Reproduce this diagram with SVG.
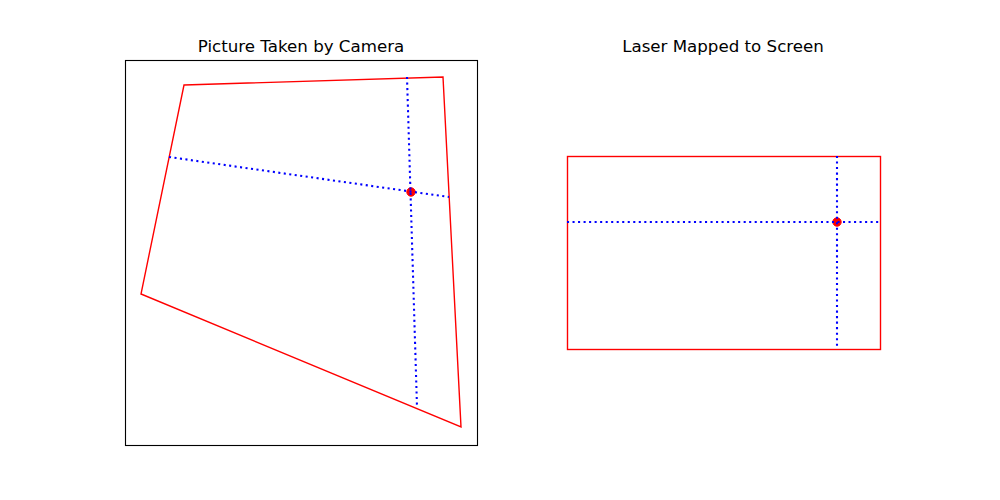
<svg xmlns="http://www.w3.org/2000/svg" width="1000" height="500" viewBox="0 0 1000 500">
<style>
.title{font-family:"DejaVu Sans",sans-serif;font-size:16.67px;fill:#000;text-anchor:middle}
.quad{fill:none;stroke:#ff0000;stroke-width:1.39;stroke-linejoin:miter}
.guide{fill:none;stroke:#0000ff;stroke-width:2.08;stroke-dasharray:2.08 3.44}
.dot{fill:#ff0000;stroke:#ff0000;stroke-width:1}
.frame{fill:none;stroke:#000;stroke-width:1.11}
</style>
<rect width="1000" height="500" fill="#fff"/>
<g id="camera-panel">
<rect class="frame" x="125.5" y="60.5" width="352" height="385"/>
<text class="title" x="301" y="52">Picture Taken by Camera</text>
<polygon class="quad" points="184,85 443,77 461,427 141,294"/>
<circle class="dot" cx="411" cy="192" r="4.2"/>
</g>
<g id="screen-panel">
<text class="title" x="723" y="52">Laser Mapped to Screen</text>
<rect class="quad" x="567.5" y="156.5" width="313" height="193"/>
<circle class="dot" cx="837" cy="222" r="4.2"/>
</g>
<g id="connectors">
<line class="guide" x1="407" y1="77" x2="417" y2="407"/>
<line class="guide" x1="169" y1="157" x2="449" y2="197"/>
<line class="guide" x1="837" y1="156" x2="837" y2="349"/>
<line class="guide" x1="567" y1="222" x2="880" y2="222"/>
</g>
</svg>
